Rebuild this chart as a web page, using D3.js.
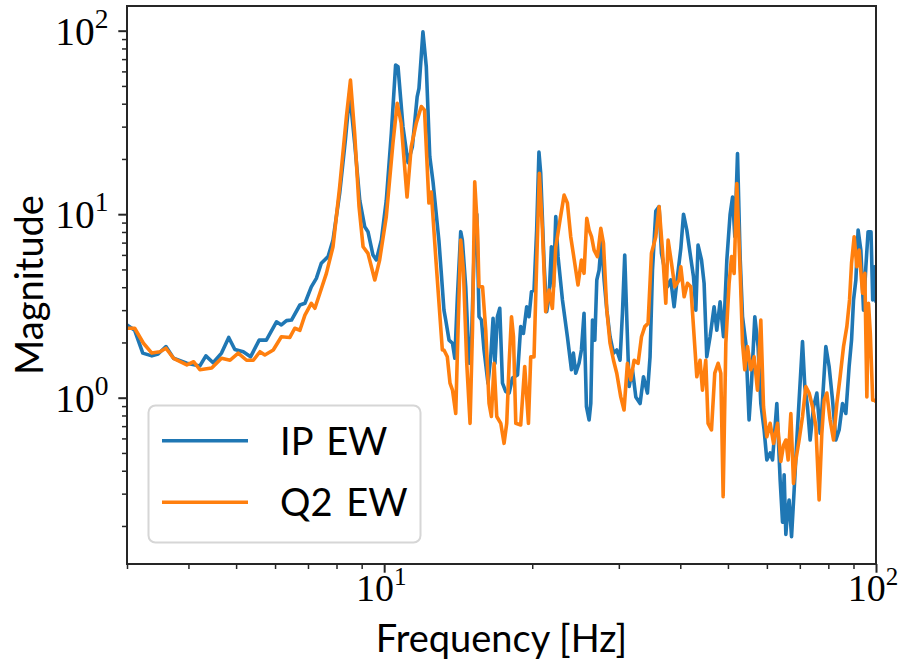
<!DOCTYPE html>
<html>
<head>
<meta charset="utf-8">
<script src="https://cdn.jsdelivr.net/npm/d3@7"></script>
<style>
  html, body { margin: 0; padding: 0; background: #fff; }
  svg { display: block; }
  .tick-label { font-family: "Liberation Serif", "DejaVu Serif", serif; fill: #000; }
  .axis-title, .legend-text { font-family: Lato, "DejaVu Sans", sans-serif; fill: #000; }
</style>
</head>
<body>
<svg id="chart" width="900" height="668"></svg>
<script>
// Frequency response magnitude, IP EW vs Q2 EW (log-log)
const ipFreq = [3.00, 3.11, 3.23, 3.37, 3.47, 3.60, 3.73, 3.97, 4.22, 4.34,
  4.49, 4.67, 4.83, 4.97, 5.17, 5.35, 5.57, 5.76, 6.04, 6.18,
  6.33, 6.48, 6.74, 6.90, 7.11, 7.28, 7.45, 7.69, 7.87, 8.12,
  8.34, 8.51, 8.71, 8.92, 9.13, 9.27, 9.49, 9.64, 9.87, 10.10,
  10.34, 10.55, 10.67, 10.92, 11.18, 11.41, 11.67, 11.77, 11.99, 12.18,
  12.38, 12.57, 12.92, 13.05, 13.23, 13.34, 13.55, 13.77, 13.92, 14.09,
  14.31, 14.42, 14.65, 14.88, 15.00, 15.23, 15.43, 15.59, 15.77, 15.96,
  16.26, 16.47, 16.65, 16.80, 16.99, 17.18, 17.40, 17.67, 17.95, 18.23,
  18.67, 18.95, 19.19, 19.49, 19.70, 19.93, 20.17, 20.42, 20.64, 20.81,
  21.14, 21.40, 21.64, 21.88, 22.09, 22.33, 22.57, 23.04, 23.58, 24.03,
  24.25, 24.52, 24.90, 25.18, 25.49, 25.78, 26.10, 26.31, 26.52, 26.81,
  27.06, 27.35, 27.66, 28.00, 28.36, 28.79, 29.26, 29.71, 30.17, 30.51,
  30.84, 31.13, 31.48, 31.98, 32.48, 33.14, 33.67, 34.30, 34.72, 35.12,
  35.67, 36.22, 36.63, 37.20, 37.67, 38.26, 38.86, 39.47, 40.10, 40.61,
  41.24, 41.88, 42.55, 43.02, 43.47, 44.18, 44.72, 45.28, 45.99, 46.86,
  47.46, 48.20, 48.97, 49.74, 50.51, 51.09, 51.64, 52.29, 52.93, 53.53,
  54.37, 55.20, 55.83, 56.70, 57.58, 58.32, 59.23, 59.98, 60.92, 61.61,
  62.86, 63.84, 64.56, 65.05, 65.57, 66.09, 66.58, 67.34, 68.17, 69.03,
  69.77, 70.89, 71.66, 72.56, 73.47, 74.65, 75.81, 76.99, 77.86, 79.07,
  80.29, 81.59, 82.86, 84.14, 85.50, 86.83, 88.18, 89.18, 90.02, 91.00,
  91.97, 93.15, 94.33, 95.36, 96.37, 97.69, 98.47, 99.21, 100.0];
const ipMag = [2.49, 2.33, 1.75, 1.69, 1.73, 1.90, 1.64, 1.54, 1.49, 1.69,
  1.55, 1.75, 2.13, 1.83, 1.78, 1.67, 2.06, 2.06, 2.59, 2.49,
  2.63, 2.65, 3.20, 3.27, 4.02, 4.47, 5.40, 5.87, 7.23, 13.0,
  25.4, 45.6, 24.4, 11.9, 8.54, 8.03, 5.99, 5.63, 7.23, 11.9,
  27.5, 65.0, 63.6, 30.0, 19.1, 23.3, 43.6, 48.5, 98.5, 63.6,
  20.6, 15.0, 7.2, 5.0, 3.0, 2.65, 2.06, 1.98, 1.64, 3.55,
  8.03, 7.23, 4.02, 1.54, 1.54, 6.0, 10.0, 2.76, 2.65, 1.82,
  1.20, 1.67, 2.71, 1.54, 2.76, 3.07, 1.20, 1.08, 1.06, 1.28,
  1.33, 2.44, 2.24, 3.13, 2.76, 3.78, 3.86, 8.20, 21.8, 16.7,
  5.40, 2.94, 3.55, 6.65, 4.02, 9.70, 5.87, 3.41, 2.15, 1.42,
  1.75, 1.36, 1.54, 1.82, 2.88, 0.893, 0.756, 0.932, 2.65, 2.06,
  4.38, 4.96, 7.23, 4.38, 3.00, 2.15, 1.75, 1.82, 1.60, 2.88,
  5.99, 2.76, 1.15, 1.42, 1.01, 0.93, 1.30, 1.06, 1.67, 4.96,
  10.4, 11.0, 6.12, 4.96, 4.02, 4.38, 3.13, 4.56, 6.5, 10.0,
  8.20, 6.12, 4.56, 3.00, 6.78, 5.63, 4.20, 1.67, 2.15, 3.13,
  2.33, 3.33, 2.15, 5.63, 10.0, 12.4, 7.54, 21.4, 5.87, 2.76,
  1.98, 0.756, 1.20, 2.76, 1.90, 0.93, 0.667, 0.458, 0.50, 0.458,
  0.93, 0.356, 0.21, 0.38, 0.18, 0.24, 0.277, 0.175, 0.314, 0.588,
  0.97, 2.02, 1.15, 0.893, 0.588, 0.893, 1.06, 0.64, 0.97, 1.90,
  1.48, 0.97, 0.588, 0.667, 0.93, 0.82, 1.48, 2.06, 3.41, 4.38,
  8.20, 6.37, 3.00, 5.17, 8.03, 8.03, 3.41, 5.17, 3.3];

const q2Freq = [3.00, 3.11, 3.24, 3.37, 3.50, 3.60, 3.73, 3.97, 4.10, 4.22,
  4.46, 4.67, 4.86, 5.05, 5.25, 5.42, 5.59, 5.72, 5.95, 6.18,
  6.43, 6.58, 6.74, 6.90, 7.11, 7.23, 7.40, 7.63, 7.87, 8.12,
  8.38, 8.54, 8.71, 8.89, 9.06, 9.27, 9.57, 9.79, 10.10, 10.42,
  10.63, 10.83, 11.13, 11.35, 11.62, 11.90, 12.08, 12.33, 12.47, 12.75,
  13.13, 13.23, 13.44, 13.61, 13.77, 13.98, 14.13, 14.31, 14.49, 14.72,
  14.95, 15.12, 15.28, 15.48, 15.59, 15.85, 16.09, 16.34, 16.52, 16.73,
  16.94, 17.26, 17.53, 17.75, 17.95, 18.15, 18.32, 18.52, 18.95, 19.31,
  19.49, 19.65, 19.86, 20.17, 20.42, 20.68, 20.98, 21.30, 21.64, 21.98,
  22.33, 22.78, 23.22, 23.58, 23.95, 24.32, 24.78, 25.18, 25.49, 25.82,
  26.10, 26.40, 26.72, 27.14, 27.57, 27.92, 28.36, 28.79, 29.26, 29.71,
  30.27, 30.74, 31.23, 31.73, 32.22, 32.83, 33.36, 33.88, 34.40, 34.95,
  35.67, 36.22, 36.80, 37.38, 37.78, 38.39, 38.98, 39.78, 40.10, 40.73,
  41.37, 42.02, 42.68, 43.22, 43.88, 44.38, 45.07, 45.56, 46.29, 47.01,
  47.75, 48.36, 48.89, 49.51, 50.27, 50.85, 51.47, 52.12, 52.93, 53.53,
  54.11, 54.79, 55.65, 56.52, 57.41, 58.32, 59.06, 59.98, 60.92, 61.90,
  63.06, 64.05, 64.86, 65.57, 66.28, 67.12, 67.97, 68.71, 69.77, 70.89,
  72.00, 73.12, 74.30, 75.46, 76.62, 77.60, 78.44, 79.44, 80.67, 81.97,
  83.25, 84.54, 85.90, 87.24, 88.35, 89.18, 90.28, 91.42, 92.41, 93.90,
  94.91, 95.81, 96.55, 97.37, 98.47, 99.21, 100.0];
const q2Mag = [2.39, 2.39, 1.98, 1.75, 1.78, 1.86, 1.64, 1.51, 1.57, 1.42,
  1.45, 1.64, 1.60, 1.75, 1.60, 1.60, 1.78, 1.71, 1.82, 2.15,
  2.13, 2.39, 2.33, 2.82, 3.27, 3.07, 3.71, 4.76, 6.65, 14.1,
  34.0, 53.8, 27.5, 11.0, 6.65, 6.12, 4.38, 5.63, 9.7, 24.4,
  40.2, 31.3, 12.4, 23.3, 31.3, 38.6, 36.9, 11.5, 13.2, 5.5,
  1.82, 1.82, 1.67, 1.20, 1.10, 0.82, 2.33, 7.23, 4.96, 1.54,
  0.725, 2.33, 15.0, 8.20, 4.02, 4.02, 2.33, 0.93, 0.79, 1.54,
  0.79, 0.725, 0.564, 0.725, 1.54, 2.76, 2.15, 0.725, 0.71, 1.48,
  1.01, 0.725, 1.67, 1.67, 5.40, 16.7, 8.20, 2.94, 3.86, 3.07,
  6.6, 9.31, 12.7, 11.5, 7.54, 5.76, 4.11, 5.63, 4.76, 9.50,
  8.20, 7.54, 6.37, 5.87, 8.37, 6.93, 3.00, 1.98, 1.60, 1.36,
  1.01, 0.857, 1.54, 1.25, 1.60, 1.54, 2.15, 2.44, 2.54, 6.12,
  7.54, 11.0, 6.37, 3.27, 7.23, 5.40, 4.02, 4.38, 5.17, 3.55,
  4.20, 4.02, 2.15, 1.30, 1.60, 1.10, 1.60, 0.725, 0.667, 1.36,
  1.54, 1.36, 0.289, 1.98, 4.20, 5.87, 4.76, 14.7, 4.96, 1.98,
  1.42, 1.90, 1.42, 1.67, 1.10, 2.65, 0.893, 0.613, 0.725, 0.564,
  0.725, 0.45, 0.55, 0.588, 0.458, 0.82, 0.341, 0.458, 0.588, 0.79,
  1.15, 1.06, 0.893, 0.70, 0.277, 0.64, 0.97, 1.06, 0.756, 0.588,
  0.93, 1.30, 1.90, 2.44, 3.41, 5.40, 7.54, 5.17, 6.37, 3.71,
  4.76, 1.01, 3.27, 2.24, 0.97, 0.97, 0.95];

const seriesNames = ["IP EW", "Q2 EW"];
const seriesColors = ["#1f77b4", "#ff7f0e"];

// axis ranges and ticks
const xDomain = [3, 100];
const yDomain = [0.1241, 136.3];
const xMajor = [10, 100];
const xMajorExp = ["1", "2"];
const xMinor = [3, 4, 5, 6, 7, 8, 9, 20, 30, 40, 50, 60, 70, 80, 90];
const yMajor = [1, 10, 100];
const yMajorExp = ["0", "1", "2"];
const yMinor = [0.2, 0.3, 0.4, 0.5, 0.6, 0.7, 0.8, 0.9, 2, 3, 4, 5, 6, 7, 8, 9, 20, 30, 40, 50, 60, 70, 80, 90];
const xTitle = "Frequency [Hz]";
const yTitle = "Magnitude";

const plot = { left: 127, top: 6, right: 876, bottom: 564 };
const svg = d3.select("#chart");

const x = d3.scaleLog().domain(xDomain).range([plot.left, plot.right]);
const y = d3.scaleLog().domain(yDomain).range([plot.bottom, plot.top]);

svg.append("defs").append("clipPath").attr("id", "plot-clip")
  .append("rect")
  .attr("x", plot.left).attr("y", plot.top)
  .attr("width", plot.right - plot.left).attr("height", plot.bottom - plot.top);

// data lines
const line = d3.line().x(d => x(d[0])).y(d => y(d[1]));
const series = [d3.zip(ipFreq, ipMag), d3.zip(q2Freq, q2Mag)];
const linesG = svg.append("g").attr("clip-path", "url(#plot-clip)");
series.forEach((pts, i) => {
  linesG.append("path")
    .datum(pts)
    .attr("d", line)
    .attr("fill", "none")
    .attr("stroke", seriesColors[i])
    .attr("stroke-width", 3.6)
    .attr("stroke-linejoin", "round")
    .attr("stroke-linecap", "butt");
});

// axes: ticks only, frame drawn separately
const axisColor = "#262626";
function styleAxis(g) {
  g.select(".domain").remove();
  g.selectAll(".tick line").attr("stroke", axisColor);
  g.selectAll(".tick text").remove();
}
svg.append("g").attr("transform", `translate(0,${plot.bottom})`)
  .call(d3.axisBottom(x).tickValues(xMajor).tickSize(8.7).tickFormat(""))
  .call(styleAxis).selectAll(".tick line").attr("stroke-width", 2);
svg.append("g").attr("transform", `translate(0,${plot.bottom})`)
  .call(d3.axisBottom(x).tickValues(xMinor).tickSize(5).tickFormat(""))
  .call(styleAxis).selectAll(".tick line").attr("stroke-width", 1.5);
svg.append("g").attr("transform", `translate(${plot.left},0)`)
  .call(d3.axisLeft(y).tickValues(yMajor).tickSize(8.7).tickFormat(""))
  .call(styleAxis).selectAll(".tick line").attr("stroke-width", 2);
svg.append("g").attr("transform", `translate(${plot.left},0)`)
  .call(d3.axisLeft(y).tickValues(yMinor).tickSize(5).tickFormat(""))
  .call(styleAxis).selectAll(".tick line").attr("stroke-width", 1.5);

// power-of-ten tick labels
function powerLabel(g, exp, base, sup, rise) {
  g.append("tspan").attr("font-size", base).text("10");
  g.append("tspan").attr("font-size", sup).attr("dy", -rise).text(exp);
}
xMajor.forEach((v, i) => {
  const t = svg.append("text").attr("class", "tick-label")
    .attr("x", x(v) - 3).attr("y", 601).attr("text-anchor", "middle");
  powerLabel(t, xMajorExp[i], 38, 25, 16);
});
yMajor.forEach((v, i) => {
  const t = svg.append("text").attr("class", "tick-label")
    .attr("x", 108.5).attr("y", y(v) + 14).attr("text-anchor", "end");
  powerLabel(t, yMajorExp[i], 39.4, 27.5, 16.7);
});

// frame
svg.append("rect")
  .attr("x", plot.left).attr("y", plot.top)
  .attr("width", plot.right - plot.left).attr("height", plot.bottom - plot.top)
  .attr("fill", "none").attr("stroke", axisColor).attr("stroke-width", 2);

// axis titles
svg.append("text").attr("class", "axis-title")
  .attr("x", (plot.left + plot.right) / 2).attr("y", 652)
  .attr("text-anchor", "middle").attr("font-size", 38).text(xTitle);
svg.append("text").attr("class", "axis-title")
  .attr("transform", `translate(43,${(plot.top + plot.bottom) / 2}) rotate(-90)`)
  .attr("text-anchor", "middle").attr("font-size", 38).text(yTitle);

// legend
const legend = svg.append("g");
legend.append("rect")
  .attr("x", 148.5).attr("y", 405.5).attr("width", 272).attr("height", 137)
  .attr("rx", 7).attr("ry", 7)
  .attr("fill", "#fff").attr("fill-opacity", 0.8)
  .attr("stroke", "#d6d6d6").attr("stroke-width", 2);
const legendRows = [440.7, 502.3];
seriesNames.forEach((name, i) => {
  legend.append("line")
    .attr("x1", 162).attr("x2", 248)
    .attr("y1", legendRows[i]).attr("y2", legendRows[i])
    .attr("stroke", seriesColors[i]).attr("stroke-width", 3.6);
  legend.append("text").attr("class", "legend-text")
    .attr("x", 280).attr("y", legendRows[i] + 13.8)
    .attr("font-size", 38).attr("word-spacing", 4).text(name);
});
</script>
</body>
</html>
